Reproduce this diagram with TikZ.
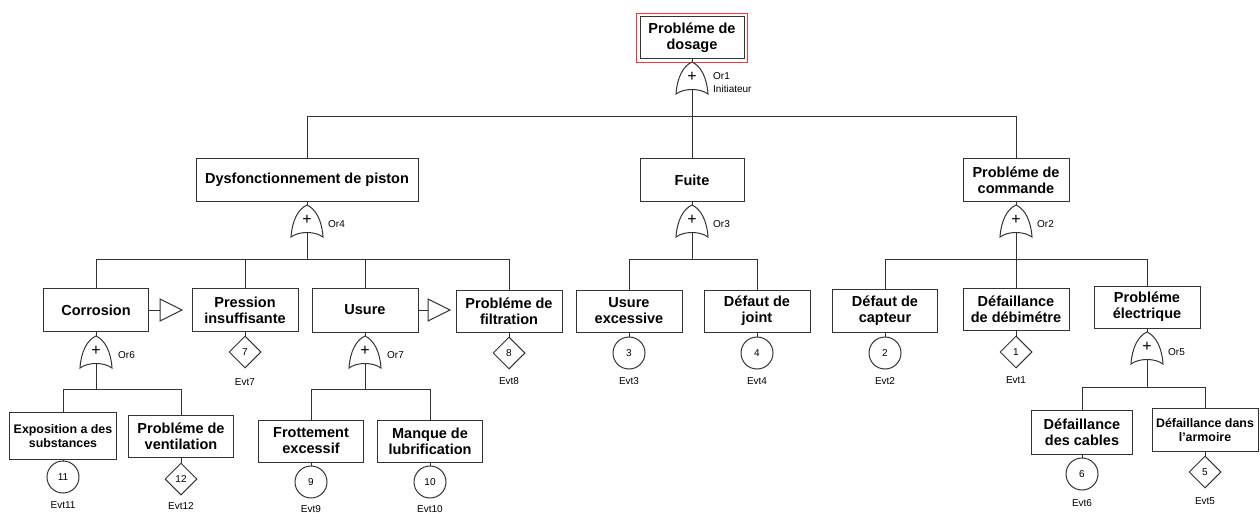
\documentclass[tikz,border=0pt]{standalone}
\usepackage{fontspec}
\setmainfont{Liberation Sans}
\usetikzlibrary{shapes,positioning}

\tikzset{
  tline/.style={draw=black!80, line width=1pt},
  evbox/.style={tline, fill=white, align=center, inner sep=1pt,
    font=\bfseries\fontsize{14.5}{16}\selectfont, minimum width=106, minimum height=43},
  smallbox/.style={evbox, font=\bfseries\fontsize{12.4}{13.5}\selectfont},
  evcirc/.style={tline, circle, minimum size=32, inner sep=0, font=\fontsize{10}{12}\selectfont},
  evdiam/.style={tline, diamond, minimum size=32, inner sep=0, font=\fontsize{10}{12}\selectfont},
  evlbl/.style={inner sep=0, font=\fontsize{10}{12}\selectfont},
  gatelbl/.style={anchor=west, align=left, inner sep=0, font=\fontsize{10}{13}\selectfont},
  orgate/.pic={
    \draw[tline, fill=white] (0,0) .. controls (9,4) and (15,16) .. (16,32)
      .. controls (8,26) and (-8,26) .. (-16,32)
      .. controls (-15,16) and (-9,4) .. (0,0) -- cycle;
    \node[inner sep=0, font=\fontsize{16}{16}\selectfont] (-plus) at (0,15) {+};
    \coordinate (-top) at (0,0);
    \coordinate (-bot) at (0,27.5);
  }
}

\begin{document}
\begin{tikzpicture}[x=1pt, y=-1pt]
  \useasboundingbox (0,0) rectangle (1260,513);

  % top event
  \node[evbox, minimum width=104, minimum height=42] (dosage) at (692,38) {Probléme de\\dosage};
  \draw[red!80, line width=0.9pt] ([shift={(-3,-3)}]dosage.north west) rectangle ([shift={(3,3)}]dosage.south east);
  \pic (or1) at (692,62) {orgate};
  \node[gatelbl] (or1lbl) at (713,83) {Or1\\Initiateur};
  \draw[tline] (dosage.south) -- (or1-top);

  % second level
  \node[evbox, minimum width=222] (dysf) at (307,180) {Dysfonctionnement de piston};
  \node[evbox, minimum width=104] (fuite) at (692,180) {Fuite};
  \node[evbox] (cmd) at (1016,180) {Probléme de\\commande};
  \coordinate (bus1) at (692,117);
  \draw[tline] (or1-bot) -- (bus1);
  \draw[tline] (bus1) -| (dysf.north);
  \draw[tline] (bus1) -- (fuite.north);
  \draw[tline] (bus1) -| (cmd.north);

  \pic (or4) at (307,205) {orgate};
  \pic (or3) at (692,205) {orgate};
  \pic (or2) at (1016,205) {orgate};
  \node[gatelbl] (or4lbl) at (328,224) {Or4};
  \node[gatelbl] (or3lbl) at (713,224) {Or3};
  \node[gatelbl] (or2lbl) at (1037,224) {Or2};
  \draw[tline] (dysf.south) -- (or4-top);
  \draw[tline] (fuite.south) -- (or3-top);
  \draw[tline] (cmd.south) -- (or2-top);

  % third level
  \node[evbox, minimum width=105] (corr) at (96,310) {Corrosion};
  \node[evbox] (press) at (245,310) {Pression\\insuffisante};
  \node[evbox, minimum height=44] (usure) at (365,310) {Usure};
  \node[evbox, minimum height=42] (filt) at (509,311) {Probléme de\\filtration};
  \node[evbox, minimum height=42] (usex) at (629,311) {Usure\\excessive};
  \node[evbox, minimum height=42] (joint) at (757,311) {Défaut de\\joint};
  \node[evbox, minimum width=105] (capt) at (885,311) {Défaut de\\capteur};
  \node[evbox, minimum height=42] (debi) at (1016,309) {Défaillance\\de débimétre};
  \node[evbox, minimum height=42] (elec) at (1147,307) {Probléme\\électrique};

  \coordinate (bus4) at (307,259);
  \coordinate (bus3) at (692,259);
  \coordinate (bus2) at (1016,259);
  \draw[tline] (or4-bot) -- (bus4);
  \draw[tline] (or3-bot) -- (bus3);
  \draw[tline] (or2-bot) -- (bus2);
  \foreach \c in {corr,press,usure,filt}
    \draw[tline] (bus4) -| (\c.north);
  \foreach \c in {usex,joint}
    \draw[tline] (bus3) -| (\c.north);
  \foreach \c in {capt,debi,elec}
    \draw[tline] (bus2) -| (\c.north);

  % transfer triangles
  \coordinate (tr1) at (160,310);
  \coordinate (tr2) at (428,310);
  \draw[tline] (corr.east) -- (tr1);
  \draw[tline] (usure.east) -- (tr2);
  \draw[tline, fill=white] (tr1) -- ++(0,-11) -- ++(22,11) -- ++(-22,11) -- cycle;
  \draw[tline, fill=white] (tr2) -- ++(0,-11) -- ++(22,11) -- ++(-22,11) -- cycle;

  % basic events, third level
  \node[evdiam] (ev7) at (245,352) {7};
  \node[evdiam] (ev8) at (509,353) {8};
  \node[evcirc] (ev3) at (629,353) {3};
  \node[evcirc] (ev4) at (757,353) {4};
  \node[evcirc] (ev2) at (885,353) {2};
  \node[evdiam] (ev1) at (1016,352) {1};
  \draw[tline] (press.south) -- (ev7.north);
  \draw[tline] (filt.south) -- (ev8.north);
  \draw[tline] (usex.south) -- (ev3.north);
  \draw[tline] (joint.south) -- (ev4.north);
  \draw[tline] (capt.south) -- (ev2.north);
  \draw[tline] (debi.south) -- (ev1.north);
  \node[evlbl] (evt7) at (245,382) {Evt7};
  \node[evlbl] (evt8) at (509,381) {Evt8};
  \node[evlbl] (evt3) at (629,381) {Evt3};
  \node[evlbl] (evt4) at (757,381) {Evt4};
  \node[evlbl] (evt2) at (885,381) {Evt2};
  \node[evlbl] (evt1) at (1016,380) {Evt1};

  % lower gates
  \pic (or6) at (96,336) {orgate};
  \pic (or7) at (365,336) {orgate};
  \pic (or5) at (1147,332) {orgate};
  \node[gatelbl] (or6lbl) at (118,355) {Or6};
  \node[gatelbl] (or7lbl) at (387,355) {Or7};
  \node[gatelbl] (or5lbl) at (1168,352) {Or5};
  \draw[tline] (corr.south) -- (or6-top);
  \draw[tline] (usure.south) -- (or7-top);
  \draw[tline] (elec.south) -- (or5-top);

  % fourth level
  \node[smallbox, minimum width=107, minimum height=47] (expo) at (63,436) {Exposition a des\\substances};
  \node[evbox, minimum width=105, minimum height=42] (vent) at (181,436) {Probléme de\\ventilation};
  \node[evbox, minimum width=105, minimum height=42] (frot) at (311,441) {Frottement\\excessif};
  \node[evbox, minimum width=105, minimum height=42] (manq) at (430,441) {Manque de\\lubrification};
  \node[evbox, minimum width=101, minimum height=44] (cabl) at (1082,432) {Défaillance\\des cables};
  \node[smallbox, minimum width=106, minimum height=43] (armo) at (1205,430) {Défaillance dans\\l'armoire};

  \coordinate (bus6) at (96,389);
  \coordinate (bus7) at (365,389);
  \coordinate (bus5) at (1147,387);
  \draw[tline] (or6-bot) -- (bus6);
  \draw[tline] (or7-bot) -- (bus7);
  \draw[tline] (or5-bot) -- (bus5);
  \foreach \c in {expo,vent}
    \draw[tline] (bus6) -| (\c.north);
  \foreach \c in {frot,manq}
    \draw[tline] (bus7) -| (\c.north);
  \foreach \c in {cabl,armo}
    \draw[tline] (bus5) -| (\c.north);

  % basic events, fourth level
  \node[evcirc] (ev11) at (63,477) {11};
  \node[evdiam] (ev12) at (181,479) {12};
  \node[evcirc] (ev9) at (311,482) {9};
  \node[evcirc] (ev10) at (430,482) {10};
  \node[evcirc] (ev6) at (1082,474) {6};
  \node[evdiam] (ev5) at (1205,472) {5};
  \draw[tline] (expo.south) -- (ev11.north);
  \draw[tline] (vent.south) -- (ev12.north);
  \draw[tline] (frot.south) -- (ev9.north);
  \draw[tline] (manq.south) -- (ev10.north);
  \draw[tline] (cabl.south) -- (ev6.north);
  \draw[tline] (armo.south) -- (ev5.north);
  \node[evlbl] (evt11) at (63,505) {Evt11};
  \node[evlbl] (evt12) at (181,506) {Evt12};
  \node[evlbl] (evt9) at (311,509) {Evt9};
  \node[evlbl] (evt10) at (430,509) {Evt10};
  \node[evlbl] (evt6) at (1082,503) {Evt6};
  \node[evlbl] (evt5) at (1205,501) {Evt5};
\end{tikzpicture}
\end{document}
